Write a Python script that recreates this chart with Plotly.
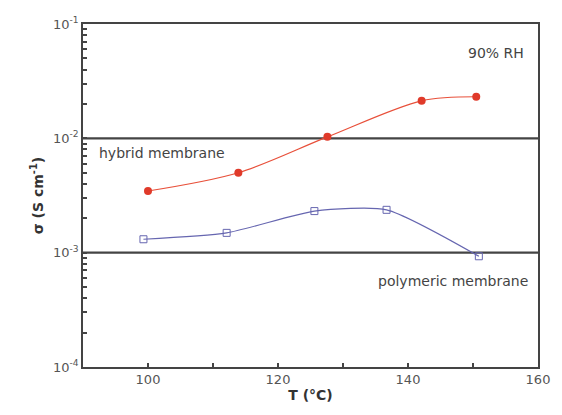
import plotly.graph_objects as go

hybrid_T = [100.0, 113.9, 127.6, 142.1, 150.5]
hybrid_sigma = [3.46e-3, 5.0e-3, 1.03e-2, 2.13e-2, 2.31e-2]
poly_T = [99.3, 112.1, 125.6, 136.7, 150.9]
poly_sigma = [1.31e-3, 1.49e-3, 2.31e-3, 2.37e-3, 9.3e-4]
ref_levels = [1e-2, 1e-3]
decades = [1e-4, 1e-3, 1e-2, 1e-1]
decade_labels = ["10<sup>-4</sup>", "10<sup>-3</sup>", "10<sup>-2</sup>", "10<sup>-1</sup>"]
x_tickvals = [100, 110, 120, 130, 140, 150, 160]
x_ticktext = ["100", " ", "120", " ", "140", " ", "160"]

# major + minor y ticks on one axis; only decades get labels
y_tickvals, y_ticktext = [], []
for i, d in enumerate(decades):
    y_tickvals.append(d)
    y_ticktext.append(decade_labels[i])
    if i < len(decades) - 1:
        for m in range(2, 10):
            y_tickvals.append(m * d)
            y_ticktext.append(" ")

FONT = "DejaVu Sans, Liberation Sans, Arial, sans-serif"
AX = "#444444"
fig = go.Figure()

for lv in ref_levels:
    fig.add_trace(go.Scatter(x=[90, 160], y=[lv, lv], mode="lines",
                             line=dict(color="#444444", width=2.2),
                             showlegend=False, hoverinfo="skip"))

fig.add_trace(go.Scatter(x=hybrid_T, y=hybrid_sigma, mode="lines+markers",
                         line=dict(color="#e8503a", width=1.2, shape="spline", smoothing=0.9),
                         marker=dict(symbol="circle", size=8, color="#e03a2a"),
                         showlegend=False))
fig.add_trace(go.Scatter(x=poly_T, y=poly_sigma, mode="lines+markers",
                         line=dict(color="#6666b0", width=1.2, shape="spline", smoothing=0.6),
                         marker=dict(symbol="square-open", size=7, color="#6666b0", line=dict(width=1)),
                         showlegend=False))

fig.update_layout(
    width=562, height=415,
    margin=dict(l=83, r=16, t=24, b=48),
    paper_bgcolor="white", plot_bgcolor="white",
    font=dict(family=FONT, color="#444444", size=13),
    xaxis=dict(range=[90, 160], tickmode="array", tickvals=x_tickvals, ticktext=x_ticktext,
               ticks="inside", ticklen=4, tickwidth=1.5,
               tickcolor=AX, showline=True, linecolor=AX, linewidth=1.5,
               mirror=True, showgrid=False, zeroline=False,
               tickfont=dict(size=13, color="#555555"),
               title=dict(text="<b>T (°C)</b>", font=dict(size=14, color="#333333"), standoff=2)),
    yaxis=dict(type="log", range=[-4, -1], tickmode="array",
               tickvals=y_tickvals, ticktext=y_ticktext,
               ticks="inside", ticklen=4, tickwidth=1.5, tickcolor=AX,
               showline=True, linecolor=AX, linewidth=1.5, mirror=True,
               showgrid=False, zeroline=False,
               tickfont=dict(size=13, color="#555555"),
               title=dict(text="<b>σ (S cm<sup>-1</sup>)</b>", font=dict(size=14, color="#333333"), standoff=6)),
)

fig.add_annotation(x=1, y=0.915, xref="paper", yref="paper", xanchor="right", yanchor="middle",
                   text="90% RH", showarrow=False, xshift=-12,
                   font=dict(size=14, color="#444444"))
fig.add_annotation(x=0, y=-2, xref="paper", yref="y", xanchor="left", yanchor="top",
                   text="hybrid membrane", showarrow=False, xshift=14, yshift=-5,
                   font=dict(size=14, color="#444444"))
fig.add_annotation(x=1, y=-3, xref="paper", yref="y", xanchor="right", yanchor="top",
                   text="polymeric membrane", showarrow=False, xshift=-8, yshift=-18,
                   font=dict(size=14, color="#444444"))

fig.write_html("out.html")
